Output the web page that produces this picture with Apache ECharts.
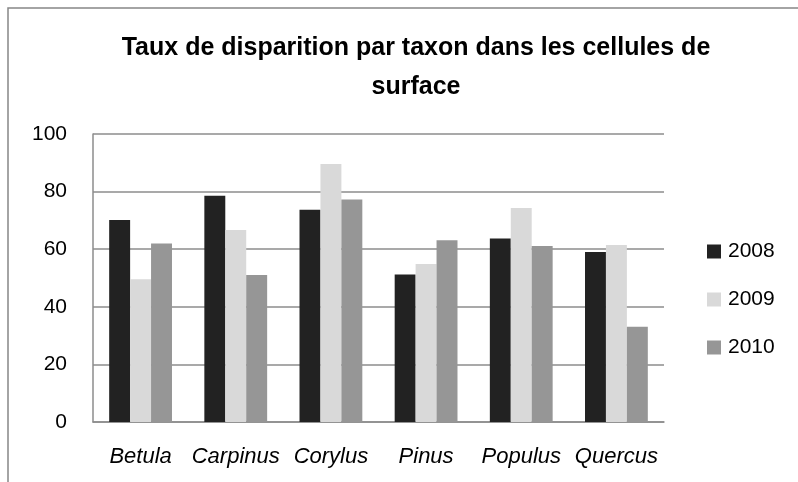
<!DOCTYPE html>
<html>
<head>
<meta charset="utf-8">
<script src="https://cdn.jsdelivr.net/npm/echarts@6/dist/echarts.min.js"></script>
<style>
  html, body { margin: 0; padding: 0; background: #fff; }
  #chart { width: 798px; height: 482px; }
</style>
</head>
<body>
<div id="chart"></div>
<script>
// taxons et taux de disparition (%)
const taxons = ['Betula', 'Carpinus', 'Corylus', 'Pinus', 'Populus', 'Quercus'];
const annees = ['2008', '2009', '2010'];
const v2008 = [70.1, 78.6, 73.7, 51.2, 63.7, 59.0];
const v2009 = [49.6, 66.7, 89.6, 54.9, 74.3, 61.5];
const v2010 = [62.0, 51.0, 77.3, 63.1, 61.1, 33.1];
const yTicks = [0, 20, 40, 60, 80, 100];

const couleurs = ['#222222', '#d9d9d9', '#969696'];
const FONT = '"Liberation Sans", "Noto Sans", sans-serif';

const chart = echarts.init(document.getElementById('chart'));

const series = [v2008, v2009, v2010].map((vals, i) => ({
  name: annees[i],
  type: 'bar',
  data: vals,
  barGap: '0%',
  barCategoryGap: '34%',
  itemStyle: { color: couleurs[i] },
  emphasis: { disabled: true },
}));

chart.setOption({
  animation: false,
  textStyle: { fontFamily: FONT },
  title: {
    text: 'Taux de disparition par taxon dans les cellules de\nsurface',
    left: 411,
    top: 24,
    textAlign: 'center',
    textStyle: {
      fontFamily: FONT,
      fontSize: 25,
      fontWeight: 'bold',
      color: '#000',
      lineHeight: 39,
    },
  },
  graphic: [
    {
      type: 'rect',
      shape: { x: 8, y: 8, width: 900, height: 600 },
      style: { fill: 'none', stroke: '#868686', lineWidth: 1.5 },
      silent: true,
    },
  ],
  legend: {
    orient: 'vertical',
    left: 707,
    top: 241,
    padding: 0,
    itemWidth: 14,
    itemHeight: 14,
    itemGap: 27,
    icon: 'rect',
    data: annees,
    textStyle: { fontFamily: FONT, fontSize: 21, color: '#000', padding: [0, 0, 0, 2] },
  },
  grid: {
    left: 93,
    right: 134,
    top: 134,
    bottom: 60,
  },
  xAxis: {
    type: 'category',
    data: taxons,
    axisLine: { show: true, lineStyle: { color: '#8c8c8c', width: 1.5 } },
    axisTick: { show: false },
    axisLabel: {
      interval: 0,
      color: '#000',
      fontSize: 22,
      fontStyle: 'italic',
      fontFamily: FONT,
      margin: 24,
    },
  },
  yAxis: {
    type: 'value',
    min: yTicks[0],
    max: yTicks[yTicks.length - 1],
    interval: 20,
    axisLine: { show: true, lineStyle: { color: '#8c8c8c', width: 1.5 } },
    axisTick: { show: false },
    axisLabel: {
      color: '#000',
      fontSize: 21,
      fontFamily: FONT,
      margin: 26,
    },
    splitLine: { show: true, lineStyle: { color: '#8c8c8c', width: 1.5 } },
  },
  series: series,
});
</script>
</body>
</html>
